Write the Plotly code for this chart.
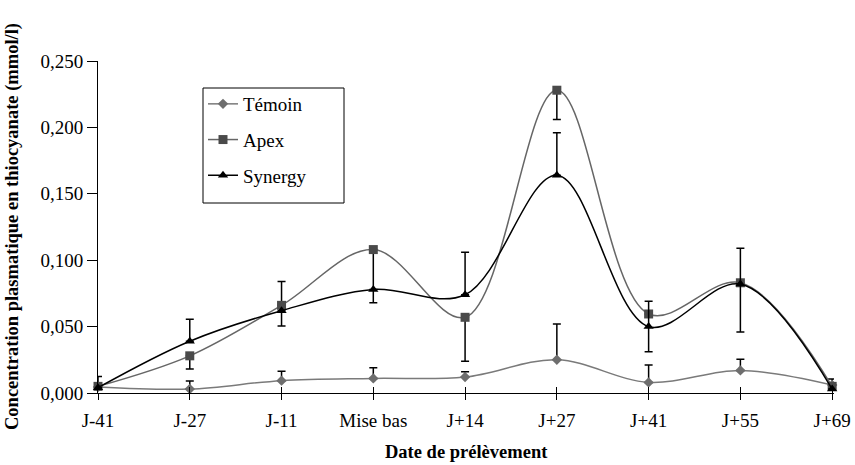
import plotly.graph_objects as go

categories = ["J-41", "J-27", "J-11", "Mise bas", "J+14", "J+27", "J+41", "J+55", "J+69"]

temoin = [0.0045, 0.003, 0.0093, 0.011, 0.012, 0.025, 0.008, 0.017, 0.006]
temoin_err_plus = [0.008, 0.006, 0.007, 0.008, 0.004, 0.027, 0.013, 0.0085, 0.0045]
temoin_err_minus = [0, 0, 0, 0, 0, 0, 0, 0, 0]

apex = [0.005, 0.028, 0.066, 0.108, 0.057, 0.228, 0.0595, 0.083, 0.005]
apex_err_plus = [0, 0, 0.018, 0, 0, 0, 0, 0, 0]
apex_err_minus = [0, 0.010, 0, 0.040, 0.033, 0.022, 0, 0, 0]

synergy = [0.004, 0.039, 0.062, 0.078, 0.074, 0.164, 0.050, 0.082, 0.003]
synergy_err_plus = [0, 0.0165, 0, 0, 0.032, 0.032, 0.019, 0.027, 0]
synergy_err_minus = [0, 0, 0.0115, 0, 0, 0, 0.019, 0.036, 0]

x_title = "Date de prélèvement"
y_title = "Concentration plasmatique en thiocyanate (mmol/l)"

xs = list(range(len(categories)))
FONT = "'Liberation Serif', 'Times New Roman', Times, serif"
XRANGE = [0, 8.02]

W, H = 855, 465
L, R, T, B = 98, 21, 61, 72
PW, PH = W - L - R, H - T - B

def px_x(p):
    return (p - L) / PW

def px_y(p):
    return (H - B - p) / PH

fig = go.Figure()

def add(name, y, plus, minus, line_color, marker_color, symbol, size, group):
    fig.add_trace(go.Scatter(
        x=xs, y=y, name=name, mode="lines+markers",
        line=dict(color=line_color, width=1.5, shape="spline", smoothing=1.0),
        marker=dict(color=marker_color, symbol=symbol, size=size),
        error_y=dict(type="data", symmetric=False, array=plus, arrayminus=minus,
                     color="black", thickness=1.5, width=4),
        cliponaxis=False, legendgroup=group,
    ))

add("Témoin", temoin, temoin_err_plus, temoin_err_minus, "#7a7a7a", "#6e6e6e", "diamond", 8, "a")
add("Apex", apex, apex_err_plus, apex_err_minus, "#666666", "#4a4a4a", "square", 9, "b")
add("Synergy", synergy, synergy_err_plus, synergy_err_minus, "#000000", "#000000", "triangle-up", 9, "c")

# overlay axis only to draw the inner half of the crossing x ticks
fig.add_trace(go.Scatter(x=[], y=[], xaxis="x2", showlegend=False, hoverinfo="skip"))

fig.update_layout(
    width=W, height=H,
    margin=dict(l=L, r=R, t=T, b=B),
    paper_bgcolor="white", plot_bgcolor="white",
    separators=", ",
    font=dict(family=FONT, size=19, color="black"),
    showlegend=True,
    legend=dict(
        x=px_x(203), y=px_y(85), xanchor="left", yanchor="top",
        borderwidth=0, bgcolor="rgba(0,0,0,0)",
        font=dict(family=FONT, size=19, color="black"),
        tracegroupgap=8, traceorder="grouped",
    ),
    shapes=[dict(
        type="rect", xref="paper", yref="paper",
        x0=px_x(203), x1=px_x(344), y0=px_y(203), y1=px_y(88),
        line=dict(color="black", width=1), fillcolor="rgba(0,0,0,0)", layer="below",
    )],
    annotations=[
        dict(text="<b>" + x_title + "</b>", xref="paper", yref="paper",
             x=0.5, y=px_y(452), xanchor="center", yanchor="middle", showarrow=False,
             font=dict(family=FONT, size=18.5, color="black")),
        dict(text="<b>" + y_title + "</b>", xref="paper", yref="paper",
             x=px_x(12), y=0.5, xanchor="center", yanchor="middle", showarrow=False,
             textangle=-90, font=dict(family=FONT, size=18.5, color="black")),
    ],
)
fig.update_layout(xaxis2=dict(
    overlaying="x", anchor="y", range=XRANGE, tickvals=xs,
    ticks="inside", ticklen=6, tickcolor="black", showticklabels=False,
    showline=False, showgrid=False, zeroline=False,
))
fig.update_layout(xaxis=dict(
    range=XRANGE, tickvals=xs, ticktext=categories, automargin=False,
    showline=True, linecolor="black", linewidth=1,
    ticks="outside", ticklen=6, tickcolor="black", ticklabelstandoff=4,
    showgrid=False, zeroline=False,
    tickfont=dict(family=FONT, size=19),
))
fig.update_layout(yaxis=dict(
    range=[0, 0.25], tickvals=[0, 0.05, 0.10, 0.15, 0.20, 0.25], tickformat=".3f",
    automargin=False,
    showline=True, linecolor="black", linewidth=1,
    ticks="outside", ticklen=10, tickcolor="black",
    showgrid=False, zeroline=False,
    tickfont=dict(family=FONT, size=19),
))

fig.write_html("out.html")
